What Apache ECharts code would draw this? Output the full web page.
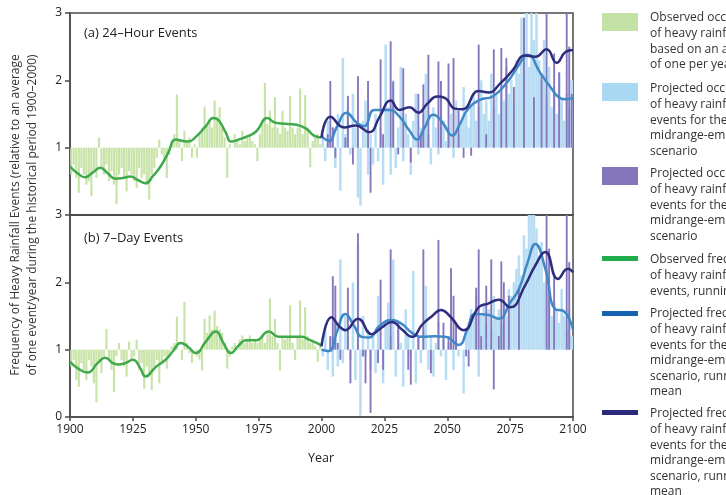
<!DOCTYPE html>
<html><head><meta charset="utf-8">
<script src="https://cdn.jsdelivr.net/npm/echarts@6/dist/echarts.min.js"></script>
<style>html,body{margin:0;padding:0;background:#fff;overflow:hidden}#c{width:726px;height:495px}</style>
</head><body><div id="c"></div>
<script>
// ---------- DATA ----------
var xTicks = [1900,1925,1950,1975,2000,2025,2050,2075,2100];
var obsYearStart = 1900, projYearStart = 2000;
// (a) 24-hour events, observed yearly occurrences 1900-1999
var obsA = [0.6,0.75,0.55,0.33,0.7,0.6,0.45,0.5,0.28,0.65,
 0.55,1.15,0.7,0.6,0.75,0.5,0.65,0.45,0.16,0.6,
 0.7,0.55,0.35,0.65,0.6,0.5,0.4,0.7,0.55,0.6,
 0.45,0.23,0.6,0.7,0.85,1.12,0.9,0.8,0.55,0.9,
 1.05,1.2,1.79,1.1,0.8,1.25,1.1,1.15,0.85,1.05,
 0.85,1.2,1.3,1.61,1.35,1.4,1.3,1.7,1.45,1.6,
 1.3,1.15,0.55,1.05,1.0,1.2,1.1,1.05,1.25,1.1,
 1.15,1.2,1.1,1.05,0.8,1.2,1.4,1.96,1.35,1.55,
 1.3,1.75,1.3,1.2,1.55,1.3,1.25,1.77,1.3,1.2,
 1.3,1.88,1.2,1.78,1.3,0.71,1.1,1.15,1.2,1.05];
// (a) projected occurrences, light blue, 2000-2099
var projLowA = [1.2,0.8,1.4,1.1,1.3,0.7,1.5,0.36,2.33,1.2,
 1.6,0.9,1.8,1.3,0.26,0.14,1.4,1.7,0.6,1.2,
 0.75,1.5,0.8,1.3,0.45,2.53,1.6,0.6,2.0,0.7,
 1.3,2.2,0.8,1.5,1.2,0.6,1.4,1.8,0.9,1.3,
 1.5,2.1,1.2,0.75,1.6,1.3,0.9,1.8,1.4,1.1,
 1.3,1.5,0.85,1.7,1.2,1.4,1.9,1.5,1.3,1.6,
 1.8,1.4,1.6,2.0,1.5,1.7,1.4,2.1,1.6,1.8,
 1.5,1.9,1.7,2.2,1.8,2.0,1.6,2.3,2.1,2.93,
 2.4,3.1,2.2,3.1,2.6,3.1,2.3,2.0,2.6,1.8,
 2.2,1.6,1.9,1.5,2.1,1.7,1.4,1.8,1.6,2.0];
// (a) projected occurrences, purple, 2000-2099
var projHighA = [1,1,1.2,1.99,1.3,0.85,1,1,1,1.15,
 1.77,1,0.75,1,2.06,1,1,1,1.99,0.33,
 1,1,1,2.31,1.2,1,1,2.58,1.98,1,
 0.9,1,2.18,1,1,0.78,1,1,1.8,1.2,
 1.94,1,2.38,1,1,1,2.28,1.99,1,1,
 2.25,1,2.33,1,1.55,1,0.85,1,1,0.88,
 1,1,2.53,1,1,1.2,1,1,2.46,1,
 1,2.48,1,2.33,1,1,1.9,1,1,1,
 2.93,1,1,1,1.75,1,1,2.09,1,3.1,
 1,1,2.4,1,2.12,1,1,3.1,2.5,1.8];
// (b) 7-day events, observed 1900-1999
var obsB = [0.75,0.85,0.55,0.45,0.8,0.7,0.55,0.85,0.75,0.5,
 0.22,0.8,0.65,0.9,1.31,0.85,0.7,0.37,0.9,1.1,
 0.85,0.75,0.6,1.12,0.85,0.9,1.15,0.7,0.8,0.42,
 0.75,0.6,0.4,0.75,0.85,0.5,0.8,0.9,0.72,0.9,
 1.05,1.1,1.49,1.0,0.85,1.71,1.1,0.95,0.8,1.0,
 0.9,0.85,0.69,1.46,1.25,1.51,1.3,1.58,1.35,1.3,
 1.25,1.1,0.72,0.9,1.05,1.1,1.05,1.15,1.21,1.1,
 1.15,1.21,1.1,1.15,1.1,1.15,1.2,1.1,1.25,1.76,
 1.2,1.46,1.1,0.69,1.2,1.15,1.2,1.66,1.1,0.85,
 1.2,1.73,1.15,1.63,1.2,1.1,1.15,1.05,0.82,1.1];
var projLowB = [0.9,1.3,0.7,1.2,0.6,1.4,0.75,2.34,0.8,1.5,
 1.2,0.85,2.0,0.55,2.6,0.02,1.5,0.9,1.3,0.7,
 1.2,0.65,1.8,1.0,0.5,1.4,1.7,1.2,2.34,0.6,
 1.3,1.1,0.45,1.6,1.2,0.9,2.17,0.5,1.2,0.8,
 1.3,1.95,0.7,1.2,0.6,1.1,1.4,0.9,1.2,0.55,
 1.1,1.3,0.7,1.2,0.9,1.0,0.35,1.3,1.4,1.6,
 1.5,1.8,0.6,1.5,1.7,1.4,1.6,1.3,1.8,1.5,
 1.6,1.4,1.7,1.5,1.9,1.8,2.0,2.2,2.4,2.1,
 2.7,2.5,3.1,3.1,3.1,2.8,2.4,2.6,2.0,2.2,
 1.8,1.5,1.7,1.6,1.4,1.9,1.5,1.3,1.6,1.2];
var projHighB = [1,1,1,1.2,2.09,1.95,1.1,0.85,1,1,
 1.92,0.5,1,1,2.73,1,0.9,0.5,1,0.06,
 1,1,0.8,2.04,0.7,1,1,2.49,1,1,
 1.4,1,1,1,0.7,0.48,1,1,1.2,1,
 2.49,1,1,0.65,1,1,2.63,1,1.4,1,
 1.2,2.21,1.8,1.4,1,1,1,0.9,0.75,1,
 1,1.92,2.49,1.2,1,1.95,1,2.34,0.41,1,
 1.2,2.31,2.0,1,1.8,1,1,1,1.9,1,
 1,1,1,1,1,1,1,1,1,3.1,
 2.5,1,2.12,1,1,1,1,3.1,2.3,1];
// running means [year, value]
var meanObsA = [[1900,0.72],[1903,0.62],[1906,0.56],[1909,0.63],[1912,0.70],[1915,0.62],[1918,0.54],[1921,0.55],[1924,0.57],[1927,0.52],[1930,0.47],[1933,0.58],[1936,0.72],[1939,0.92],[1942,1.12],[1945,1.10],[1947,1.09],[1950,1.16],[1954,1.32],[1957,1.44],[1959,1.41],[1962,1.22],[1964,1.09],[1967,1.12],[1970,1.16],[1974,1.24],[1978.5,1.44],[1981,1.38],[1984,1.36],[1990,1.34],[1994,1.28],[1997,1.18],[2000,1.15]];
var meanLowA = [[2000,1.17],[2003,1.1],[2006,1.3],[2010,1.52],[2014,1.37],[2017,1.32],[2021,1.56],[2027,1.56],[2031,1.46],[2035,1.25],[2038,1.12],[2041,1.3],[2044.5,1.49],[2048,1.38],[2052,1.18],[2055,1.35],[2058,1.56],[2063,1.71],[2068,1.76],[2074,1.98],[2078,2.2],[2082,2.38],[2087,2.11],[2091,1.9],[2094,1.76],[2097,1.72],[2100,1.74]];
var meanHighA = [[2000,1.15],[2003.5,1.46],[2009,1.30],[2013.5,1.33],[2019,1.23],[2023,1.45],[2027.5,1.70],[2031,1.56],[2035,1.60],[2038.5,1.52],[2042,1.65],[2046,1.76],[2049,1.74],[2053,1.58],[2056,1.57],[2062.5,1.84],[2066.5,1.82],[2071,1.95],[2076,2.15],[2081,2.37],[2085,2.35],[2089.5,2.46],[2093.5,2.26],[2097,2.42],[2100,2.45]];
var meanObsB = [[1900,0.82],[1904,0.7],[1907,0.66],[1911,0.8],[1914,0.88],[1917,0.8],[1919,0.78],[1922,0.8],[1925,0.85],[1928,0.72],[1930,0.6],[1934,0.74],[1938,0.85],[1941,0.98],[1944,1.10],[1947,1.04],[1950,0.95],[1954,1.12],[1958,1.27],[1961,1.1],[1964,0.95],[1967,1.06],[1970,1.14],[1974,1.14],[1979,1.27],[1983,1.19],[1988,1.19],[1992,1.19],[1995,1.15],[1998,1.10],[2000,1.06]];
var meanLowB = [[2000,1.0],[2003,0.98],[2006,1.25],[2009.5,1.53],[2013,1.35],[2016,1.19],[2019,1.18],[2023,1.35],[2028,1.44],[2032,1.38],[2036,1.25],[2040,1.19],[2045,1.2],[2049.5,1.19],[2054.5,1.07],[2058,1.3],[2061,1.53],[2066,1.52],[2070.5,1.46],[2075,1.7],[2078.5,1.9],[2082,2.3],[2085,2.57],[2089,2.2],[2093,1.6],[2096,1.58],[2100,1.3]];
var meanHighB = [[2000,1.05],[2004,1.48],[2007,1.35],[2009.5,1.29],[2014.5,1.46],[2020,1.23],[2024,1.33],[2028,1.41],[2032,1.30],[2036,1.19],[2040,1.37],[2044,1.50],[2047.5,1.59],[2051,1.50],[2056.5,1.29],[2062.5,1.63],[2066,1.68],[2070.5,1.74],[2075,1.63],[2081,1.96],[2085,2.25],[2089,2.45],[2094,2.05],[2098,2.2],[2100,2.15]];
var legendTexts = [
 ['Observed occurrences','of heavy rainfall events','based on an average','of one per year'],
 ['Projected occurrences','of heavy rainfall','events for the lower','midrange-emissions','scenario'],
 ['Projected occurrences','of heavy rainfall','events for the higher','midrange-emissions','scenario'],
 ['Observed frequency','of heavy rainfall','events, running mean'],
 ['Projected frequency','of heavy rainfall','events for the lower','midrange-emissions','scenario, running','mean'],
 ['Projected frequency','of heavy rainfall','events for the higher','midrange-emissions','scenario, running','mean']
];

// ---------- STYLE ----------
var C = {obsBar:'#c8e3a8', lowBar:'#b6ddf3', highBar:'#8676bc', obsLine:'#40a94b', lowLine:'#4088c6', highLine:'#2e2d7d'};
var FONT = 'Open Sans';

function toPairs(arr, start){ return arr.map(function(v,i){ return [start+i, v]; }); }
function barRender(color, frac){
  return function(params, api){
    var x = api.value(0)+0.5, v = api.value(1);
    var p1 = api.coord([x,1]), p2 = api.coord([x,v]);
    var w = api.size([1,0])[0]*frac;
    return {type:'rect', shape:{x:p1[0]-w/2, y:Math.min(p1[1],p2[1]), width:w, height:Math.abs(p1[1]-p2[1])}, style:{fill:color}};
  };
}
function bars(data, start, color, frac, idx){
  return {type:'custom', xAxisIndex:idx, yAxisIndex:idx, clip:true, renderItem:barRender(color,frac), data:toPairs(data,start), encode:{x:0,y:1}, silent:true};
}
function line(data, color, idx){
  return {type:'line', xAxisIndex:idx, yAxisIndex:idx, data:data, smooth:0.5, symbol:'none', lineStyle:{color:color, width:2.5}, silent:true, z:5};
}
var frameColor = '#4a4a4a';
function xAx(idx, labels){
  return {type:'value', gridIndex:idx, min:1900, max:2100, interval:25,
    axisLine:{show:true, lineStyle:{color:frameColor, width:1.5}},
    axisTick:{show:labels, length:4, lineStyle:{color:frameColor, width:1.5}},
    axisLabel:{show:labels, color:'#222', fontSize:12, fontFamily:FONT, margin:7,
      formatter:function(v){ return String(v); }},
    splitLine:{show:false}};
}
function yAx(idx, hideZero){
  return {type:'value', gridIndex:idx, min:0, max:3, interval:1,
    axisLine:{show:true, lineStyle:{color:frameColor, width:1.5}},
    axisTick:{show:true, length:5, lineStyle:{color:frameColor, width:1.5}},
    axisLabel:{color:'#222', fontSize:12, fontFamily:FONT, margin:8,
      formatter:function(v){ return (hideZero && v===0) ? '' : String(v); }},
    splitLine:{show:false}};
}

var graphics = [];
graphics.push({type:'text', x:16, y:215, rotation:Math.PI/2, style:{text:'Frequency of Heavy Rainfall Events (relative to an average', font:'12px "'+FONT+'"', fill:'#333', textAlign:'center', textVerticalAlign:'middle'}});
graphics.push({type:'text', x:33, y:215, rotation:Math.PI/2, style:{text:'of one event/year during the historical period 1900–2000)', font:'12px "'+FONT+'"', fill:'#333', textAlign:'center', textVerticalAlign:'middle'}});
graphics.push({type:'text', x:84, y:33, style:{text:'(a) 24–Hour Events', font:'13px "'+FONT+'"', fill:'#222', textVerticalAlign:'middle'}});
graphics.push({type:'text', x:84, y:238, style:{text:'(b) 7–Day Events', font:'13px "'+FONT+'"', fill:'#222', textVerticalAlign:'middle'}});
graphics.push({type:'text', x:321, y:458, style:{text:'Year', font:'12.5px "'+FONT+'"', fill:'#222', textAlign:'center', textVerticalAlign:'middle'}});

var legendMarks = [
  {kind:'box', color:'#c5e2a6', y:13, ty:18},
  {kind:'box', color:'#a9d8f2', y:83, ty:89},
  {kind:'box', color:'#8575bb', y:167, ty:174},
  {kind:'line', color:'#1fae4b', y:258, ty:260},
  {kind:'line', color:'#1565b0', y:313, ty:314},
  {kind:'line', color:'#2b2a7c', y:412, ty:414}
];
legendMarks.forEach(function(m, i){
  if (m.kind==='box') graphics.push({type:'rect', shape:{x:602, y:m.y, width:36, height:18}, style:{fill:m.color}});
  else graphics.push({type:'rect', shape:{x:602, y:m.y-2, width:36, height:5}, style:{fill:m.color}});
  legendTexts[i].forEach(function(t, j){
    graphics.push({type:'text', x:650, y:m.ty + j*15.6, style:{text:t, font:'12px "'+FONT+'"', fill:'#333', textVerticalAlign:'middle'}});
  });
});

var chart = echarts.init(document.getElementById('c'), null, {renderer:'canvas'});
chart.setOption({
  animation:false,
  backgroundColor:'#fff',
  grid:[
    {left:70, top:13, width:503, height:202, show:true, borderColor:frameColor, borderWidth:1.5, backgroundColor:'transparent'},
    {left:70, top:215, width:503, height:202, show:true, borderColor:frameColor, borderWidth:1.5, backgroundColor:'transparent'}
  ],
  xAxis:[xAx(0,false), xAx(1,true)],
  yAxis:[yAx(0,true), yAx(1,false)],
  series:[
    bars(obsA, obsYearStart, C.obsBar, 0.85, 0),
    bars(projLowA, projYearStart, C.lowBar, 1.0, 0),
    bars(projHighA, projYearStart, C.highBar, 0.75, 0),
    line(meanObsA, C.obsLine, 0),
    line(meanLowA, C.lowLine, 0),
    line(meanHighA, C.highLine, 0),
    bars(obsB, obsYearStart, C.obsBar, 0.85, 1),
    bars(projLowB, projYearStart, C.lowBar, 1.0, 1),
    bars(projHighB, projYearStart, C.highBar, 0.75, 1),
    line(meanObsB, C.obsLine, 1),
    line(meanLowB, C.lowLine, 1),
    line(meanHighB, C.highLine, 1)
  ],
  graphic:graphics
});
</script></body></html>
